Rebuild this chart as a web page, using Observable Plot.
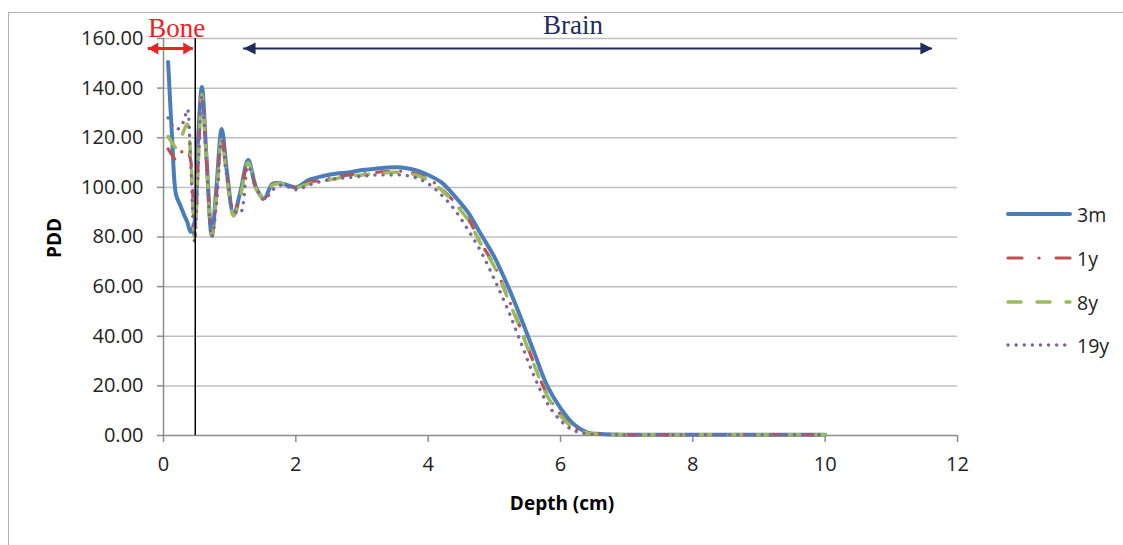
<!DOCTYPE html>
<html>
<head>
<meta charset="utf-8">
<script src="https://cdn.jsdelivr.net/npm/d3@7"></script>
<script src="https://cdn.jsdelivr.net/npm/@observablehq/plot@0.6"></script>
<style>
html, body { margin: 0; padding: 0; background: #fff; overflow: hidden; }
#wrap { position: relative; width: 1123px; height: 545px; font-family: "Open Sans", sans-serif; }
#frame { position: absolute; left: 8px; top: 12px; width: 1130px; height: 560px; border-top: 1.5px solid #b0b0b0; border-left: 1.5px solid #b0b0b0; box-sizing: border-box; }
#chart { position: absolute; left: 0; top: 0; }
.axtitle { position: absolute; font-weight: bold; font-size: 19px; color: #000; white-space: nowrap; }
#ylab { left: 54px; top: 238px; transform: translate(-50%, -50%) rotate(-90deg); }
#xlab { left: 562px; top: 503px; transform: translate(-50%, -50%); }
#legend { position: absolute; left: 1005px; top: 0; }
.lrow { position: absolute; left: 0; display: flex; align-items: center; height: 26px; transform: translateY(-50%); }
.lrow svg { display: block; }
.lrow span { font-size: 19.5px; color: #1e1e1e; margin-left: 4px; white-space: nowrap; }
</style>
</head>
<body>
<div id="wrap">
  <div id="frame"></div>
  <div id="chart"></div>
  <div class="axtitle" id="ylab">PDD</div>
  <div class="axtitle" id="xlab">Depth (cm)</div>
  <div id="legend"></div>
</div>
<script>
// ---- data ----
const depth = [0.07,0.13,0.19,0.25,0.31,0.36,0.41,0.47,0.52,0.58,0.65,0.73,0.80,0.88,0.96,1.06,1.16,1.28,1.40,1.52,1.65,1.80,2.00,2.20,2.40,2.60,2.80,3.00,3.20,3.40,3.60,3.80,4.00,4.20,4.40,4.60,4.80,5.00,5.20,5.40,5.60,5.80,6.00,6.20,6.40,6.60,6.80,7.00,7.50,8.00,8.50,9.00,9.50,10.00];
const pdd3m = [150.5,120,97,93,89,86,82,86,118,140.5,112,80.5,100,123.5,106,89,98,111,100,95.5,101.5,101.5,100,103,104.5,105.5,106,107,107.5,108,108,107,105,102,96.5,90,81,72,60.5,47.5,33.6,20,11,4.5,1.3,0.6,0.4,0.3,0.3,0.3,0.3,0.3,0.3,0.3];
const pdd1y = [115.5,113,111,113,115.5,115,111,80,108,137,111,81,97,120.5,104,89,97,109.5,99.5,95.5,101,101.5,100,102,103,104,105,105.5,106,106.5,106.5,105.5,103.5,99.5,94,87.5,77.5,68.5,56,43,29,16.5,8.5,3.3,1.0,0.5,0.4,0.3,0.3,0.3,0.3,0.3,0.3,0.3];
const pdd8y = [120.5,118,116,119,123,125.5,113,80,106,137.5,111,80.5,96,119.5,103,88.5,96,110,99.5,95.5,101,101.5,100,101.5,102.5,103.5,104.5,105,105.5,106,106,105,103,99,93.5,87,77,68,55.5,42.5,28.5,16,8,3,1,0.5,0.4,0.3,0.3,0.3,0.3,0.3,0.3,0.3];
const pdd19y = [128,125,123.5,124,127,131.5,110,78,105,137,110,80,93,119,104,91,89.5,108.5,100,95,99,101,99,101,102.5,103.5,104,104.5,105,105,105,104,101.5,97,91,83,74,63,51,37.5,24,13,6,2,0.7,0.5,0.4,0.3,0.3,0.3,0.3,0.3,0.3,0.3];
const seriesNames = ["3m", "1y", "8y", "19y"];
const yTicks = [0, 20, 40, 60, 80, 100, 120, 140, 160];
const xTicks = [0, 2, 4, 6, 8, 10, 12];
const boneDepth = [0.48];
const boneArrow = [{x1: -0.23, x2: 0.45, y: 156}];
const brainArrow = [{x1: 1.21, x2: 11.62, y: 156}];
const regionLabels = [{x: 0.2, y: 163.9, text: "Bone"}, {x: 6.19, y: 165.3, text: "Brain"}];

// ---- styles ----
const seriesValues = [pdd3m, pdd1y, pdd8y, pdd19y];
const seriesStyle = [
  {stroke: "#4a7ebb", strokeWidth: 4, dash: null},
  {stroke: "#c0504d", strokeWidth: 3.2, dash: "12,12,0.1,12"},
  {stroke: "#9bbb59", strokeWidth: 3.5, dash: "13,16"},
  {stroke: "#8064a2", strokeWidth: 3.4, dash: "0.1,8"}
];
const boneColor = "#ee2222";
const brainColor = "#1f2d5e";

const headRight = (L, W) => ({draw(c) { c.moveTo(0, 0); c.lineTo(-L, -W / 2); c.lineTo(-L, W / 2); c.closePath(); }});
const headLeft = (L, W) => ({draw(c) { c.moveTo(0, 0); c.lineTo(L, -W / 2); c.lineTo(L, W / 2); c.closePath(); }});

const lineMarks = seriesValues.map((vals, i) => {
  const st = seriesStyle[i];
  return Plot.line(depth.map((d, j) => ({depth: d, pdd: vals[j], series: seriesNames[i]})), {
    x: "depth", y: "pdd", stroke: st.stroke, strokeWidth: st.strokeWidth,
    strokeDasharray: st.dash, strokeLinecap: "round", strokeLinejoin: "round",
    curve: "catmull-rom"
  });
});

const arrowMarks = (data, color, width, L, W) => [
  Plot.ruleY(data, {y: "y", x1: "x1", x2: "x2", stroke: color, strokeWidth: width}),
  Plot.dot(data, {x: "x2", y: "y", symbol: headRight(L, W), r: 5, fill: color, stroke: "none"}),
  Plot.dot(data, {x: "x1", y: "y", symbol: headLeft(L, W), r: 5, fill: color, stroke: "none"})
];

const chart = Plot.plot({
  width: 1123, height: 545,
  marginLeft: 163, marginRight: 166, marginTop: 38, marginBottom: 110,
  x: {domain: [0, 12]},
  y: {domain: [0, 160]},
  style: {fontFamily: "Open Sans, sans-serif", fontSize: "20px", color: "#222", background: "transparent", overflow: "visible"},
  marks: [
    Plot.ruleY(yTicks.filter(d => d > 0), {stroke: "#c0c0c0", strokeWidth: 1.5}),
    Plot.axisY({ticks: yTicks, tickFormat: d => d.toFixed(2), tickSize: 6, tickPadding: 14, stroke: "#8c8c8c", strokeWidth: 1.5, label: null, fontSize: 20}),
    Plot.axisX({ticks: xTicks, tickSize: 7, tickPadding: 14, stroke: "#8c8c8c", strokeWidth: 1.5, label: null, fontSize: 20}),
    Plot.ruleY([0], {stroke: "#8c8c8c", strokeWidth: 1.5}),
    Plot.ruleX([0], {y1: 0, y2: 160, stroke: "#8c8c8c", strokeWidth: 1.5}),
    ...lineMarks,
    Plot.ruleX(boneDepth, {y1: 0, y2: 160, stroke: "#000", strokeWidth: 1.5}),
    ...arrowMarks(boneArrow, boneColor, 3, 10, 12),
    ...arrowMarks(brainArrow, brainColor, 2, 12, 12),
    Plot.text(regionLabels.slice(0, 1), {x: "x", y: "y", text: "text", fill: boneColor, fontSize: 27, fontFamily: "Liberation Serif, serif"}),
    Plot.text(regionLabels.slice(1), {x: "x", y: "y", text: "text", fill: brainColor, fontSize: 27, fontFamily: "Liberation Serif, serif"})
  ]
});
document.getElementById("chart").appendChild(chart);

// ---- legend ----
const legendTops = [214, 258, 302, 345];
const legend = document.getElementById("legend");
seriesNames.forEach((name, i) => {
  const st = seriesStyle[i];
  const row = document.createElement("div");
  row.className = "lrow";
  row.style.top = legendTops[i] + "px";
  row.innerHTML = `<svg width="68" height="12"><line x1="3" y1="6" x2="65" y2="6" stroke="${st.stroke}" stroke-width="${st.strokeWidth}" stroke-linecap="round" ${st.dash ? `stroke-dasharray="${i === 1 ? "14,17,0.1,17" : st.dash}"` : ""}/></svg><span>${name}</span>`;
  legend.appendChild(row);
});
</script>
</body>
</html>
